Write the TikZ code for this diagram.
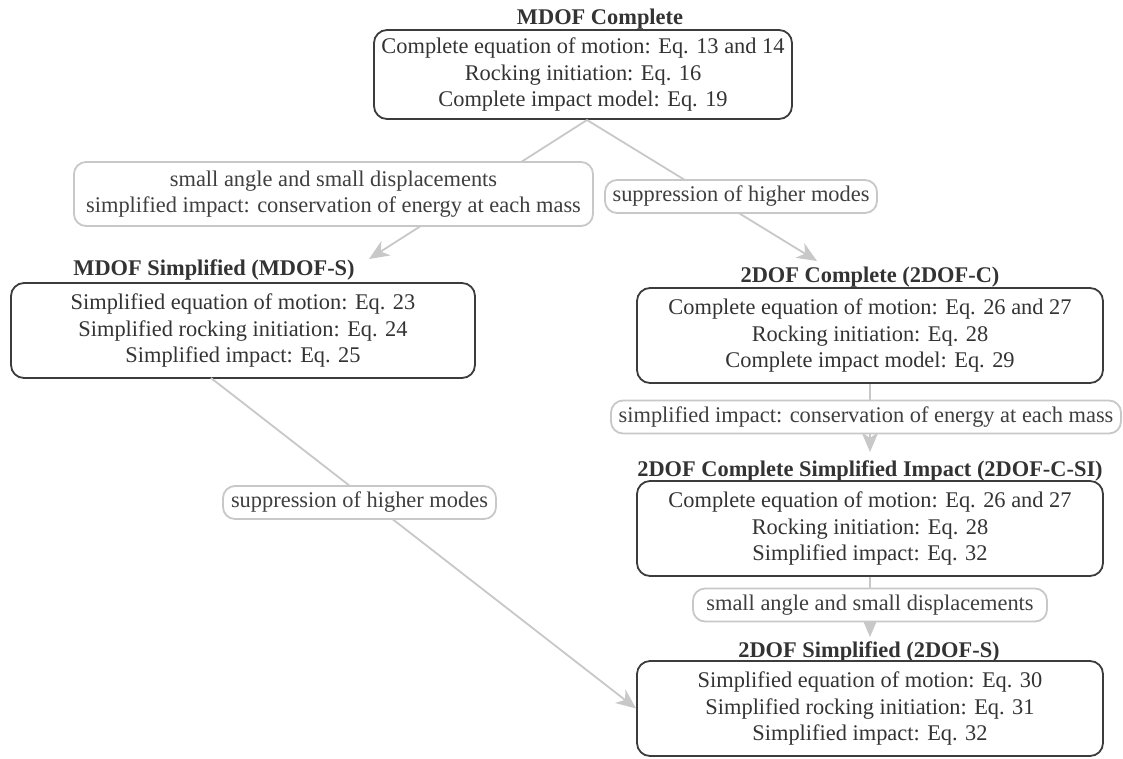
\documentclass[tikz,border=0pt]{standalone}
\usepackage{fontspec}
\setmainfont{Liberation Serif}
\usetikzlibrary{arrows.meta}
\definecolor{boxline}{HTML}{3C3C3C}
\definecolor{txt}{HTML}{333333}
\definecolor{lightline}{HTML}{C8C8C8}
\definecolor{labeltxt}{HTML}{3F3F3F}
\begin{document}
\begin{tikzpicture}[x=1pt,y=-1pt,
  every node/.style={font=\fontsize{22.4}{26.6}\selectfont, text=txt},
  model/.style={draw=boxline, line width=1.8pt, rounded corners=13pt, align=center,
    inner xsep=6pt, inner ysep=2pt, fill=white},
  ttl/.style={font=\fontsize{22.4}{26.6}\selectfont\bfseries, inner sep=0pt, anchor=base},
  lbl/.style={draw=lightline, line width=1.8pt, rounded corners=12pt, align=center,
    fill=white, text=labeltxt, inner xsep=6pt, inner ysep=2pt, minimum height=33pt},
  conn/.style={draw=lightline, line width=1.8pt,
    -{Stealth[length=20pt,width=17pt,inset=6pt]}}
]
\useasboundingbox (0,0) rectangle (1123,758);

% titles
\node[ttl] (tM)  at (600,24)  {MDOF Complete};
\node[ttl] (tMS) at (214,275) {MDOF Simplified (MDOF-S)};
\node[ttl] (tC)  at (870,282) {2DOF Complete (2DOF-C)};
\node[ttl] (tCSI) at (870,476) {2DOF Complete Simplified Impact (2DOF-C-SI)};
\node[ttl] (tS)  at (869,657) {2DOF Simplified (2DOF-S)};

% model boxes
\node[model, minimum width=418pt, minimum height=89pt] (M) at (583,74.5)
  {Complete equation of motion: Eq. 13 and 14\\Rocking initiation: Eq. 16\\Complete impact model: Eq. 19};
\node[model, minimum width=464pt, minimum height=95pt] (MS) at (243,330.5)
  {Simplified equation of motion: Eq. 23\\Simplified rocking initiation: Eq. 24\\Simplified impact: Eq. 25};
\node[model, minimum width=466pt, minimum height=95pt] (C) at (870,335.5)
  {Complete equation of motion: Eq. 26 and 27\\Rocking initiation: Eq. 28\\Complete impact model: Eq. 29};
\node[model, minimum width=466pt, minimum height=95pt] (CSI) at (870,528.5)
  {Complete equation of motion: Eq. 26 and 27\\Rocking initiation: Eq. 28\\Simplified impact: Eq. 32};
\node[model, minimum width=466pt, minimum height=95pt] (S) at (870,708.5)
  {Simplified equation of motion: Eq. 30\\Simplified rocking initiation: Eq. 31\\Simplified impact: Eq. 32};

% connector ends
\coordinate (mstart) at (587,120);
\coordinate (tipMS) at (369,259);
\coordinate (tipC) at (817,261);
\coordinate (msstart) at (211,378);
\coordinate (tipCSI) at (870,452);
\coordinate (tipS) at (870,637);

% connectors
\draw[conn] (mstart) -- (tipMS);
\draw[conn] (mstart) -- (tipC);
\draw[conn] (C.south) -- (tipCSI);
\draw[conn] (CSI.south) -- (tipS);
\draw[conn] (msstart) -- (S.west);

% edge labels
\node[lbl, minimum width=519pt, minimum height=64pt] (lA) at (333.5,194) {small angle and small displacements\\simplified impact: conservation of energy at each mass};
\node[lbl, minimum width=272pt] (lB) at (741,196.5) {suppression of higher modes};
\node[lbl, minimum width=510pt] (lC) at (866,417) {simplified impact: conservation of energy at each mass};
\node[lbl, minimum width=354pt] (lD) at (870,605) {small angle and small displacements};
\node[lbl, minimum width=273pt] (lE) at (359.5,502.5) {suppression of higher modes};
\end{tikzpicture}
\end{document}
